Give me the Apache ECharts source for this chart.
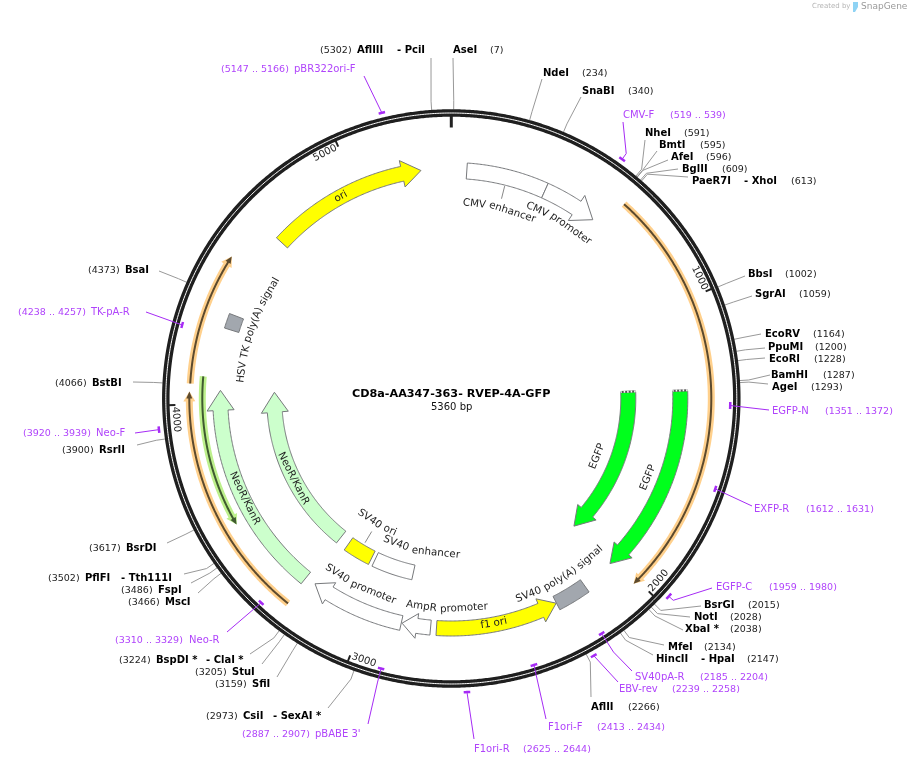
<!DOCTYPE html>
<html><head><meta charset="utf-8">
<style>html,body{margin:0;padding:0;background:#fff}#c{width:910px;height:766px}</style>
<script src="https://cdn.jsdelivr.net/npm/echarts@6/dist/echarts.min.js"></script>
</head><body><div id="c"></div>
<script>
// ---- data ----
const plasmidLength = 5360;
const plasmidName = 'CD8a-AA347-363- RVEP-4A-GFP';
const plasmidSize = '5360 bp';
const tickValues = [1000, 2000, 3000, 4000, 5000];

const siteNames = ['AseI','NdeI','SnaBI','NheI','BmtI','AfeI','BglII','PaeR7I','BbsI','SgrAI','EcoRV','PpuMI','EcoRI','BamHI','AgeI','BsrGI','NotI','XbaI *','MfeI','HincII','AflII','CsiI','SfiI','StuI','BspDI *','MscI','FspI','PflFI','BsrDI','RsrII','BstBI','BsaI','AflIII'];
const siteAlt   = ['','','','','','','','- XhoI','','','','','','','','','','','','- HpaI','','- SexAI *','','','- ClaI *','','','- Tth111I','','','','','- PciI'];
const sitePos   = [7,234,340,591,595,596,609,613,1002,1059,1164,1200,1228,1287,1293,2015,2028,2038,2134,2147,2266,2973,3159,3205,3224,3466,3486,3502,3617,3900,4066,4373,5302];

const primerNames  = ['CMV-F','EGFP-N','EXFP-R','EGFP-C','SV40pA-R','EBV-rev','F1ori-F','F1ori-R',"pBABE 3'",'Neo-R','Neo-F','TK-pA-R','pBR322ori-F'];
const primerStarts = [519,1351,1612,1959,2185,2239,2413,2625,2887,3310,3920,4238,5147];
const primerEnds   = [539,1372,1631,1980,2204,2258,2434,2644,2907,3329,3939,4257,5166];

const featureNames  = ['CMV enhancer','CMV promoter','EGFP','EGFP','SV40 poly(A) signal','f1 ori','AmpR promoter','SV40 promoter','SV40 enhancer','SV40 ori','NeoR/KanR','NeoR/KanR','HSV TK poly(A) signal','ori'];
const featureStarts = [58,361,1312,1309,2152,2735,2757,2867,2863,3075,3261,3253,4277,4654];
const featureEnds   = [361,571,2027,2027,2275,2276,2864,3221,3057,3205,4050,4050,4332,5247];

const orfStarts = [620,4069,3254,4096];
const orfEnds   = [2017,4510,4043,3567];

// ---- layout and style (kept apart from the data) ----
const CX = 451.3, CY = 398.5, RING = 285.5;
const FONT = '"DejaVu Sans"';
const PURPLE = '#a62bf5', PURPLE_TXT = '#b044fb';
// numX, nameX, altX, y, endX, endY
const siteLayout = [
 [490,453,0,50,453,58],[582,543,0,73,542,79],[628,582,0,91,581,97],[684,645,0,133,645,140],[700,659,0,145,657,151],
 [706,671,0,157,668,160],[722,682,0,169,678,169],[791,692,744,181,688,177],[785,748,0,274,745,276],[799,755,0,294,752,296],
 [813,765,0,334,761,334],[815,768,0,347,765,348],[814,769,0,359,765,358],[823,771,0,375,770,375],[811,772,0,387,768,384],
 [748,704,0,605,701,606],[730,694,0,617,690,617],[730,685,0,629,683,630],[704,668,0,647,664,645],[747,656,701,659,653,655],
 [628,591,0,707,591,697],[206,243,273,716,328,708],[215,252,0,684,277,677],[195,232,0,672,262,664],[119,156,206,660,250,654],
 [128,165,0,602,198,593],[121,158,0,590,191,583],[48,85,121,578,184,574],[89,126,0,548,167,543],[62,99,0,450,137,445],
 [55,92,0,383,133,382],[88,125,0,270,159,271],[320,357,397,50,431,58]];
// rangeX, nameX, y, endX, endY, tickRadius, elbowRadius (0 = straight)
const primerLayout = [
 [670,623,115,623,122,294,301],[825,772,411,769,410,279,0],[806,754,509,752,506,279,0],[769,716,587,712,588,294,300],[700,635,677,632,671,279,301],
 [672,619,689,618,682,294,0],[597,548,727,546,719,279,0],[523,474,749,474,739,294,0],[242,315,734,368,724,279,293],[115,189,640,227,632,279,0],
 [23,96,433,135,433,294,0],[18,91,312,146,312,279,0],[221,294,69,364,76,294,0]];
// radius, body width, head width, head length, fill
const GREEN='#00ff1c', PALE='#ccffcc', GREY='#a2a7ae', YEL='#ffff00', WH='#ffffff';
const featureStyle = [
 [228,16,0,0,WH],[228,16,30,20,WH],[229,15,24,19,GREEN],[177,15,24,19,GREEN],[230,15,0,0,GREY],[230,15,25,17,YEL],[230,15,25,15,WH],
 [230,15,25,17,WH],[178,15,0,0,WH],[178,15,0,0,YEL],[231,15,27,20,PALE],[177,15,27,20,PALE],[230,15,0,0,GREY],[230,15,27,19,YEL]];
// radius, fill highlight, dark line
const orfStyle = [[260,'#ffd08c','#5c4a2e'],[261.5,'#ffd08c','#5c4a2e'],[262,'#ffd08c','#5c4a2e'],[249,'#bdf08c','#3f5a30']];
// centre bp, radius
const featureTextAt = [[213,196],[469,207.5],[1662,157],[1666,212],[2210,211],[2521,229],[2698,210],[3068,209],[2848,155],[3139,145.5],[3620,177],[3636,229.5],[4309,211],[4933,230]];

// ---- helpers ----
const TAU = Math.PI * 2;
const bpPerRad = plasmidLength / TAU;
const meas = document.createElement('canvas').getContext('2d');
function arcPts(api, a, b, r) {
  const pts = [], n = Math.max(2, Math.ceil(Math.abs(b - a) / 5));
  for (let i = 0; i <= n; i++) { const v = a + (b - a) * i / n; pts.push(api.coord([r, (v + plasmidLength) % plasmidLength])); }
  return pts;
}
function line(points, stroke, width, extra) {
  return { type: 'polyline', shape: { points }, style: Object.assign({ stroke, lineWidth: width, fill: null }, extra || {}) };
}
function text(t, x, y, font, fill, align, rot) {
  return { type: 'text', x, y, rotation: rot || 0, style: { text: t, x: 0, y: 0, font, fill, align: align || 'left', verticalAlign: 'middle' } };
}
function arrowPts(api, a, b, r, w, hw, hl) {
  const dir = b > a ? 1 : -1;
  if (!hw) return arcPts(api, a, b, r + w / 2).concat(arcPts(api, b, a, r - w / 2));
  const base = b - dir * hl / r * bpPerRad;
  return arcPts(api, a, base, r + w / 2)
    .concat([api.coord([r + hw / 2, base]), api.coord([r, b]), api.coord([r - hw / 2, base])])
    .concat(arcPts(api, base, a, r - w / 2));
}
function poly(points, fill, stroke, lw) {
  return { type: 'polygon', shape: { points }, style: { fill, stroke: stroke || null, lineWidth: lw || 0 } };
}
function layer(rows, fn) {
  return { type: 'custom', coordinateSystem: 'polar', silent: true, animation: false, clip: false, data: rows,
    renderItem: (p, api) => ({ type: 'group', children: fn(p.dataIndex, api) }) };
}
function curvedWords(api, t, bp, r, font, fill) {
  meas.font = font;
  const words = t.split(' ');
  const sp = meas.measureText(' ').width;
  const widths = words.map(w => meas.measureText(w).width);
  const total = widths.reduce((s, w) => s + w, 0) + sp * (words.length - 1);
  const theta = bp / plasmidLength * 360;
  const lower = theta > 90 && theta < 270;
  const dir = lower ? -1 : 1;
  let pos = -total / 2;
  return words.map((w, i) => {
    const off = pos + widths[i] / 2;
    pos += widths[i] + sp;
    const b = bp + dir * off / r * bpPerRad;
    const th = b / plasmidLength * 360;
    const cw = lower ? th - 180 : th;
    const c = api.coord([r, (b + plasmidLength) % plasmidLength]);
    return text(w, c[0], c[1], font, fill, 'center', -cw * Math.PI / 180);
  });
}

const bold = 'bold 10px ' + FONT, num = '9.5px ' + FONT, pf = '10px ' + FONT, pn = '9.5px ' + FONT, ff = '10.3px ' + FONT;

const series = [
  // features
  layer(featureNames.map((n, i) => [featureStyle[i][0], featureStarts[i]]), (i, api) => {
    const s = featureStyle[i];
    const out = [poly(arrowPts(api, featureStarts[i], featureEnds[i], s[0], s[1], s[2], s[3]), s[4], '#77797c', 1)];
    if (s[4] === GREEN) {
      const a = featureStarts[i] - 2;
      out.push(line([api.coord([s[0] + s[1] / 2, a]), api.coord([s[0] - s[1] / 2, a])], '#555', 2));
      out.push(line([api.coord([s[0] + s[1] / 2, a]), api.coord([s[0] - s[1] / 2, a])], '#fff', 2, { lineDash: [1.5, 2] }));
    }
    return out;
  }),
  // highlighted open reading frames
  layer(orfStarts.map((b, i) => [orfStyle[i][0], b]), (i, api) => {
    const s = orfStyle[i];
    return [
      poly(arrowPts(api, orfStarts[i], orfEnds[i], s[0], 7, 12, 10), s[1]),
      poly(arrowPts(api, orfStarts[i], orfEnds[i], s[0], 2, 6, 7), s[2])
    ];
  }),
  // feature text
  layer(featureNames.map((n, i) => [featureTextAt[i][1], featureTextAt[i][0]]), (i, api) =>
    curvedWords(api, featureNames[i], featureTextAt[i][0], featureTextAt[i][1], ff, '#222')),
  // small feature leaders
  layer([[219, 210], [170, 3140]], (i, api) => {
    const seg = [[219, 206, 210], [168, 155, 3140]][i];
    return [line([api.coord([seg[0], seg[2]]), api.coord([seg[1], seg[2]])], '#888', 1)];
  }),
  // site leaders and labels
  layer(sitePos.map(b => [289, b]), (i, api) => {
    const L = siteLayout[i], b = sitePos[i];
    const out = [line([api.coord([289, b]), api.coord([298, b]), [L[4], L[5]]], '#999', 1)];
    out.push(text(siteNames[i], L[1], L[3], bold, '#000'));
    if (siteAlt[i]) out.push(text(siteAlt[i], L[2], L[3], bold, '#000'));
    out.push(text('(' + b + ')', L[0], L[3] + 0.5, num, '#222'));
    return out;
  }),
  // the plasmid ring
  layer([[RING, 0]], (i, api) => {
    const full = arcPts(api, 0, plasmidLength, RING);
    return [
      line(full, '#1f1f1f', 7.5),
      line(full, '#ffffff', 1)
    ];
  }),
  // ticks
  layer(tickValues.map(v => [285, v]), (i, api) => {
    const v = tickValues[i];
    const b = v - 45;
    const th = b / plasmidLength * 360;
    const cw = th > 90 && th < 270 ? th - 180 : th;
    const c = api.coord([276, b]);
    return [
      line([api.coord([284, v]), api.coord([276, v])], '#222', 2),
      text(String(v), c[0], c[1], '10px ' + FONT, '#222', 'center', -cw * Math.PI / 180)
    ];
  }),
  layer([[284, 0]], (i, api) => [line([api.coord([283, 0]), api.coord([271, 0])], '#222', 3)]),
  // primers
  layer(primerNames.map((n, i) => [primerLayout[i][5], primerStarts[i]]), (i, api) => {
    const L = primerLayout[i], a = primerStarts[i], b = primerEnds[i], m = (a + b) / 2;
    const path = [api.coord([L[5], m])];
    if (L[6]) path.push(api.coord([L[6], m]));
    path.push([L[3], L[4]]);
    return [
      line(arcPts(api, a, b, L[5]), PURPLE, 2.5),
      line(path, PURPLE, 1),
      text('(' + a + ' .. ' + b + ')', L[0], L[2] + 1, pn, PURPLE_TXT),
      text(primerNames[i], L[1], L[2], pf, PURPLE_TXT)
    ];
  })
];

const chart = echarts.init(document.getElementById('c'), null, { renderer: 'canvas' });
chart.setOption({
  animation: false,
  backgroundColor: '#fff',
  polar: { center: [CX, CY], radius: [0, 500] },
  radiusAxis: { type: 'value', min: 0, max: 500, show: false },
  angleAxis: { type: 'value', min: 0, max: plasmidLength, startAngle: 90, clockwise: true, show: false },
  series,
  graphic: [
    { type: 'text', left: 352, top: 389, silent: true, style: { text: plasmidName, font: 'bold 11.2px ' + FONT, fill: '#000' } },
    { type: 'text', left: 431, top: 402, silent: true, style: { text: plasmidSize, font: '10px ' + FONT, fill: '#111' } },
    { type: 'text', left: 812, top: 3, silent: true, style: { text: 'Created by', font: '7px ' + FONT, fill: '#b5b5b5' } },
    { type: 'polygon', silent: true, shape: { points: [[853, 2], [858, 2], [858, 7], [855, 12], [853, 12]] }, style: { fill: '#8fd3f4' } },
    { type: 'text', left: 861, top: 2, silent: true, style: { text: 'SnapGene', font: '9px ' + FONT, fill: '#9a9a9a' } }
  ]
});
</script></body></html>
